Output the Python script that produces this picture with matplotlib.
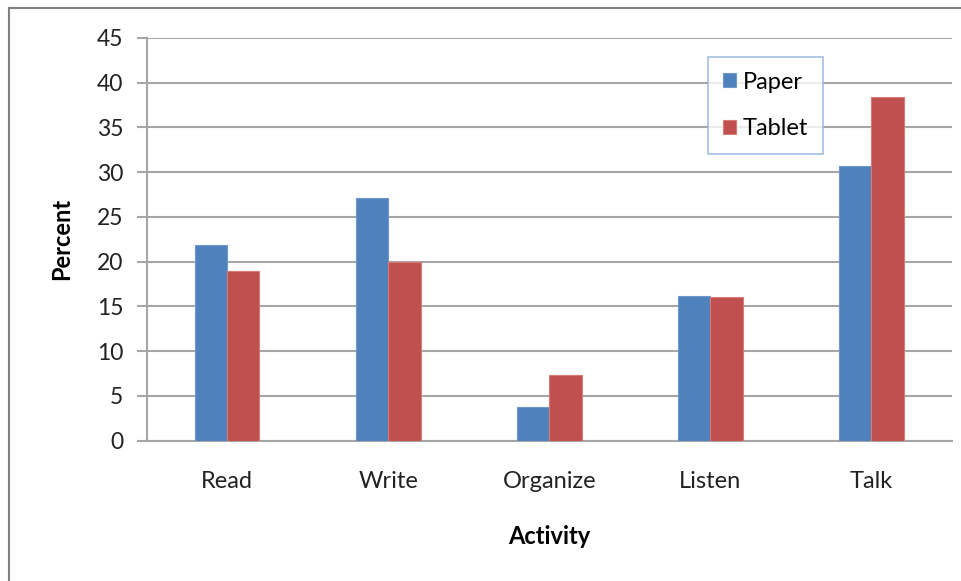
import numpy as np
import matplotlib
matplotlib.use('Agg')
import matplotlib.pyplot as plt
from matplotlib.lines import Line2D

plt.rcParams['font.family'] = ['Lato', 'DejaVu Sans']

activities = ['Read', 'Write', 'Organize', 'Listen', 'Talk']
paper = [21.9, 27.1, 3.7, 16.2, 30.7]
tablet = [19.0, 20.0, 7.3, 16.0, 38.4]

fig = plt.figure(figsize=(9.61, 5.81), dpi=100)
ax = fig.add_axes([0.1527, 0.2418, 0.8379, 0.6928])

x = np.arange(len(activities))
w = 0.2
ax.bar(x - w / 2, paper, w, color='#4F81BD', edgecolor='#6E98CC', linewidth=0.8,
       label='Paper', zorder=3)
ax.bar(x + w / 2, tablet, w, color='#C0504D', edgecolor='#D77A78', linewidth=0.8,
       label='Tablet', zorder=3)

ax.set_xlim(-0.5, len(activities) - 0.5)
ax.set_ylim(0, 45)
ax.set_yticks(range(0, 46, 5))
ax.set_xticks(x)
ax.set_xticklabels(activities)

ax.grid(axis='y', color='#A6A6A6', linewidth=1.5, zorder=0)
for s in ['top', 'right']:
    ax.spines[s].set_visible(False)
for s in ['left', 'bottom']:
    ax.spines[s].set_color('#A6A6A6')
    ax.spines[s].set_linewidth(1.5)

ax.tick_params(axis='y', length=7, width=1.5, color='#A6A6A6', pad=10,
               labelsize=16.5, labelcolor='#222222')
ax.tick_params(axis='x', length=0, pad=22, labelsize=17, labelcolor='#222222')

ax.set_xlabel('Activity', fontsize=17, fontweight='bold', labelpad=24)
ax.set_ylabel('Percent', fontsize=17, fontweight='bold', labelpad=17)

leg = ax.legend(loc='upper left', bbox_to_anchor=(0.697, 0.953), fontsize=17,
                frameon=True, fancybox=False, edgecolor='#8EB0DC',
                handlelength=0.55, handleheight=0.55, handletextpad=0.3,
                labelspacing=1.08, borderpad=0.62, borderaxespad=0)
leg.get_frame().set_linewidth(1.2)

# outer chart border (only top and left visible in the crop)
fig.add_artist(Line2D([9 / 961, 1], [1 - 8 / 581, 1 - 8 / 581],
                      transform=fig.transFigure, color='#808080', linewidth=1.5))
fig.add_artist(Line2D([9 / 961, 9 / 961], [0, 1 - 8 / 581],
                      transform=fig.transFigure, color='#808080', linewidth=1.5))

fig.savefig('out.png', dpi=100)
